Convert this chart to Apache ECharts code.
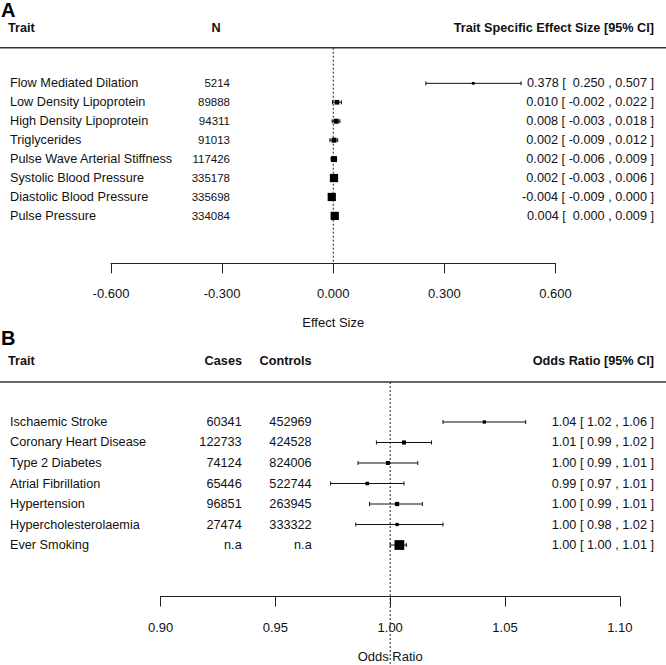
<!DOCTYPE html>
<html><head><meta charset="utf-8">
<script src="https://cdn.jsdelivr.net/npm/echarts@6/dist/echarts.min.js"></script>
<style>html,body{margin:0;padding:0;background:#fff}#c{width:666px;height:665px}</style>
</head><body><div id="c"></div>
<script>
// ---------- Panel A data ----------
const traitsA = ['Flow Mediated Dilation','Low Density Lipoprotein','High Density Lipoprotein','Triglycerides','Pulse Wave Arterial Stiffness','Systolic Blood Pressure','Diastolic Blood Pressure','Pulse Pressure'];
const nA = ['5214','89888','94311','91013','117426','335178','335698','334084'];
const estA = [0.378, 0.010, 0.008, 0.002, 0.002, 0.002, -0.004, 0.004];
const lowA = [0.250, -0.002, -0.003, -0.009, -0.006, -0.003, -0.009, 0.000];
const highA = [0.507, 0.022, 0.018, 0.012, 0.009, 0.006, 0.000, 0.009];
const ciTextA = ['0.378 [\u00a0 0.250 , 0.507 ]','0.010 [ -0.002 , 0.022 ]','0.008 [ -0.003 , 0.018 ]','0.002 [ -0.009 , 0.012 ]','0.002 [ -0.006 , 0.009 ]','0.002 [ -0.003 , 0.006 ]','-0.004 [ -0.009 , 0.000 ]','0.004 [\u00a0 0.000 , 0.009 ]'];
const ticksA = [-0.6, 0.6, 0.3];   // min, max, step
const refA = 0;

// ---------- Panel B data ----------
const traitsB = ['Ischaemic Stroke','Coronary Heart Disease','Type 2 Diabetes','Atrial Fibrillation','Hypertension','Hypercholesterolaemia','Ever Smoking'];
const casesB = ['60341','122733','74124','65446','96851','27474','n.a'];
const controlsB = ['452969','424528','824006','522744','263945','333322','n.a'];
const estB = [1.041, 1.006, 0.999, 0.990, 1.003, 1.003, 1.004];
const lowB = [1.023, 0.994, 0.986, 0.974, 0.991, 0.985, 1.000];
const highB = [1.059, 1.018, 1.012, 1.006, 1.014, 1.023, 1.007];
const ciTextB = ['1.04 [ 1.02 , 1.06 ]','1.01 [ 0.99 , 1.02 ]','1.00 [ 0.99 , 1.01 ]','0.99 [ 0.97 , 1.01 ]','1.00 [ 0.99 , 1.01 ]','1.00 [ 0.98 , 1.02 ]','1.00 [ 1.00 , 1.01 ]'];
const ticksB = [0.9, 1.1, 0.05];
const refB = 1;

const FONT = '"Liberation Sans", Arial, Helvetica, sans-serif';
const INK = '#111';

// box size follows metafor: scaled inverse CI width -> 0.5..1.5
function psizes(lo, hi) {
  const w = lo.map((l, i) => 1 / (hi[i] - l));
  const mn = Math.min(...w), mx = Math.max(...w);
  return w.map(v => 0.5 + (v - mn) / (mx - mn));
}
function ciData(est, lo, hi) {
  const ps = psizes(lo, hi);
  return est.map((e, i) => [e, i, lo[i], hi[i], ps[i]]);
}
function ciRender(base) {
  return function (params, api) {
    const row = api.value(1);
    const pe = api.coord([api.value(0), row]);
    const xl = api.coord([api.value(2), row])[0];
    const xh = api.coord([api.value(3), row])[0];
    const y = pe[1], s = base * api.value(4), cap = 2;
    const ls = { stroke: INK, lineWidth: 1 };
    return { type: 'group', children: [
      { type: 'line', shape: { x1: xl, y1: y, x2: xh, y2: y }, style: ls },
      { type: 'line', shape: { x1: xl, y1: y - cap, x2: xl, y2: y + cap }, style: ls },
      { type: 'line', shape: { x1: xh, y1: y - cap, x2: xh, y2: y + cap }, style: ls },
      { type: 'rect', shape: { x: pe[0] - s / 2, y: y - s / 2, width: s, height: s }, style: { fill: '#000' } }
    ]};
  };
}
function txt(text, x, y, align, size, weight) {
  return { type: 'text', style: { text: text, x: x, y: y, align: align, verticalAlign: 'middle',
    fontSize: size, fontFamily: FONT, fontWeight: weight || 'normal', fill: INK } };
}
function textRender(cols) {
  return function (params, api) {
    const i = params.dataIndex;
    const y = api.coord([api.value(0), api.value(1)])[1];
    return { type: 'group', children: cols.map(c => txt(c.arr[i], c.x, y, c.align, c.size)) };
  };
}
function refRender(extendToBottom) {
  return function (params, api) {
    const x = api.coord([api.value(0), api.value(1)])[0];
    const cs = params.coordSys;
    const y2 = extendToBottom ? api.getHeight() : cs.y + cs.height;
    return { type: 'line', shape: { x1: x, y1: cs.y, x2: x, y2: y2 },
      style: { stroke: '#222', lineWidth: 1, lineDash: [2, 2] } };
  };
}
function xAxisCfg(gi, t, dec, name) {
  return { gridIndex: gi, type: 'value', min: t[0], max: t[1], interval: t[2], position: 'bottom',
    axisLine: { show: true, onZero: false, lineStyle: { color: '#222', width: 1 } },
    axisTick: { show: true, length: 10, lineStyle: { color: '#222', width: 1 } },
    axisLabel: { formatter: v => v.toFixed(dec), fontSize: 13, color: INK, fontFamily: FONT, margin: 24 },
    splitLine: { show: false },
    name: name, nameLocation: 'middle', nameGap: 53,
    nameTextStyle: { fontSize: 13, color: INK, fontFamily: FONT } };
}

const chart = echarts.init(document.getElementById('c'), null, { renderer: 'svg' });
chart.setOption({
  animation: false,
  backgroundColor: '#fff',
  grid: [
    { left: 111, right: 110.5, top: 47.7, height: 215.6 },
    { left: 160.6, right: 46.2, top: 382, height: 214.5 }
  ],
  xAxis: [ xAxisCfg(0, ticksA, 3, 'Effect Size'), xAxisCfg(1, ticksB, 2, 'Odds Ratio') ],
  yAxis: [
    { gridIndex: 0, type: 'value', inverse: true, min: -1.88, max: 9.5, show: false },
    { gridIndex: 1, type: 'value', inverse: true, min: -1.95, max: 8.51, show: false }
  ],
  graphic: [
    { type: 'text', left: 1, top: 0, style: { text: 'A', fontSize: 20, fontWeight: 'bold', fontFamily: FONT, fill: '#000' } },
    txt('Trait', 8, 27.5, 'left', 12.7, 'bold'),
    txt('N', 216, 27.5, 'center', 12.7, 'bold'),
    txt('Trait Specific Effect Size [95% CI]', 654, 27.5, 'right', 12.7, 'bold'),
    { type: 'line', shape: { x1: 0, y1: 47.7, x2: 666, y2: 47.7 }, style: { stroke: '#333', lineWidth: 1.5 } },
    { type: 'text', left: 1, top: 328, style: { text: 'B', fontSize: 20, fontWeight: 'bold', fontFamily: FONT, fill: '#000' } },
    txt('Trait', 8, 361, 'left', 12.7, 'bold'),
    txt('Cases', 242, 361, 'right', 12.7, 'bold'),
    txt('Controls', 311.7, 361, 'right', 12.7, 'bold'),
    txt('Odds Ratio [95% CI]', 654, 361, 'right', 12.7, 'bold'),
    { type: 'line', shape: { x1: 0, y1: 382, x2: 666, y2: 382 }, style: { stroke: '#333', lineWidth: 1.5 } }
  ],
  series: [
    { type: 'custom', xAxisIndex: 0, yAxisIndex: 0, data: [[refA, 0]], renderItem: refRender(false), silent: true },
    { type: 'custom', xAxisIndex: 0, yAxisIndex: 0, data: ciData(estA, lowA, highA), renderItem: ciRender(5.5), encode: { x: [0, 2, 3], y: 1 } },
    { type: 'custom', xAxisIndex: 0, yAxisIndex: 0, data: traitsA.map((t, i) => [refA, i]),
      renderItem: textRender([
        { arr: traitsA, x: 10, align: 'left', size: 12.7 },
        { arr: nA, x: 230, align: 'right', size: 11.5 },
        { arr: ciTextA, x: 654, align: 'right', size: 12.7 }
      ]) },
    { type: 'custom', xAxisIndex: 1, yAxisIndex: 1, data: [[refB, 0]], renderItem: refRender(true), silent: true },
    { type: 'custom', xAxisIndex: 1, yAxisIndex: 1, data: ciData(estB, lowB, highB), renderItem: ciRender(6.5), encode: { x: [0, 2, 3], y: 1 } },
    { type: 'custom', xAxisIndex: 1, yAxisIndex: 1, data: traitsB.map((t, i) => [refB, i]),
      renderItem: textRender([
        { arr: traitsB, x: 10, align: 'left', size: 12.7 },
        { arr: casesB, x: 241.7, align: 'right', size: 12.7 },
        { arr: controlsB, x: 311.7, align: 'right', size: 12.7 },
        { arr: ciTextB, x: 654, align: 'right', size: 12.7 }
      ]) }
  ]
});
</script></body></html>
